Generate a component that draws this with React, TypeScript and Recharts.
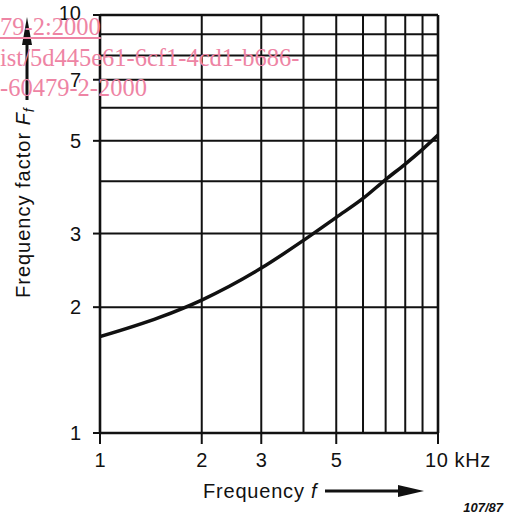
import React from "react";
import {
  LineChart,
  Line,
  XAxis,
  YAxis,
  CartesianGrid,
  ReferenceLine,
} from "recharts";

// Frequency f (kHz) and frequency factor F_f
const freqs = [1, 1.5, 2, 3, 4, 5, 6, 7, 8, 9, 10];
const factor = [1.7, 1.89, 2.08, 2.48, 2.89, 3.28, 3.64, 4.04, 4.4, 4.77, 5.16];

// grid lines and labelled ticks
const gridTicks = [1, 2, 3, 4, 5, 6, 7, 8, 9, 10];
const xLabels = [1, 2, 3, 5, 10];
const yLabels = [1, 2, 3, 5, 7, 10];

const watermark = ["79-2:2000", "ist/5d445e61-6cf1-4cd1-b686-", "-60479-2-2000"];
const figNumber = "107/87";

const data = freqs.map((f, i) => ({ f, ff: factor[i] }));

const FONT = '"Liberation Sans", Arial, sans-serif';
const INK = "#111";

const XTick = (props: any) => {
  const { x, payload } = props;
  const v = payload.value;
  if (!xLabels.includes(v)) return null;
  const top = 433;
  return (
    <g>
      <line x1={x} x2={x} y1={top} y2={top + 11} stroke={INK} strokeWidth={2} />
      {v === 10 ? (
        <text x={x - 13} y={467} fontSize={20} fontFamily={FONT} fill={INK} textAnchor="start" letterSpacing={0.6}>
          {"10 kHz"}
        </text>
      ) : (
        <text x={x} y={467} fontSize={20} fontFamily={FONT} fill={INK} textAnchor="middle">
          {v}
        </text>
      )}
    </g>
  );
};

const YTick = (props: any) => {
  const { y, payload } = props;
  const v = payload.value;
  if (!yLabels.includes(v)) return null;
  return (
    <g>
      <line x1={93} x2={100} y1={y} y2={y} stroke={INK} strokeWidth={2} />
      <text
        x={81}
        y={v === 10 ? y - 2 : y}
        fontSize={20}
        fontFamily={FONT}
        fill={INK}
        textAnchor="end"
        dominantBaseline="central"
      >
        {v}
      </text>
    </g>
  );
};

const YLabel = () => (
  <g>
    <text
      transform="translate(30,298) rotate(-90)"
      fontSize={20}
      fontFamily={FONT}
      fill={INK}
      textAnchor="start"
      letterSpacing={1}
    >
      Frequency factor{" "}
      <tspan fontStyle="italic">F</tspan>
      <tspan fontStyle="italic" fontSize={14} dy={4}>
        f
      </tspan>
    </text>
    <line x1={27} x2={27} y1={100} y2={38} stroke={INK} strokeWidth={3} />
    <polygon points="27,17 22,45 32,45" fill={INK} />
  </g>
);

const XLabel = () => (
  <g>
    <text x={203} y={498} fontSize={20} fontFamily={FONT} fill={INK} textAnchor="start" letterSpacing={0.8}>
      Frequency <tspan fontStyle="italic">f</tspan>
    </text>
    <line x1={325} x2={404} y1={491} y2={491} stroke={INK} strokeWidth={3} />
    <polygon points="424,491 398,485 398,497" fill={INK} />
    <text
      x={503}
      y={512}
      fontSize={13}
      fontFamily={FONT}
      fontStyle="italic"
      fontWeight="bold"
      fill={INK}
      textAnchor="end"
    >
      {figNumber}
    </text>
  </g>
);

export default function App() {
  return (
    <div style={{ position: "absolute", left: 0, top: 0, width: 510, height: 519, background: "#fff" }}>
      <LineChart
        width={510}
        height={519}
        data={data}
        margin={{ top: 15, right: 72, bottom: 26, left: 0 }}
      >
        <CartesianGrid stroke={INK} strokeWidth={2} strokeDasharray="" />
        <XAxis
          dataKey="f"
          type="number"
          scale="log"
          domain={[1, 10]}
          ticks={gridTicks}
          interval={0}
          allowDataOverflow
          height={60}
          tickLine={false}
          axisLine={{ stroke: INK, strokeWidth: 2.6 }}
          tick={<XTick />}
          label={<XLabel />}
        />
        <YAxis
          type="number"
          scale="log"
          domain={[1, 10]}
          ticks={gridTicks}
          interval={0}
          allowDataOverflow
          width={100}
          tickLine={false}
          axisLine={{ stroke: INK, strokeWidth: 2.6 }}
          tick={<YTick />}
          label={<YLabel />}
        />
        <ReferenceLine y={10} stroke={INK} strokeWidth={2.6} />
        <ReferenceLine x={10} stroke={INK} strokeWidth={2.6} />
        <Line
          dataKey="ff"
          type="monotone"
          stroke={INK}
          strokeWidth={3.5}
          dot={false}
          isAnimationActive={false}
        />
      </LineChart>
      {watermark.map((t, i) => (
        <div
          key={i}
          style={{
            position: "absolute",
            left: 0,
            top: 12 + i * 30.5,
            fontFamily: '"Liberation Serif", "Times New Roman", serif',
            fontSize: 24.5,
            lineHeight: "30px",
            color: "#ee84a4",
            whiteSpace: "nowrap",
            textDecoration: i === 0 ? "underline" : "none",
            pointerEvents: "none",
          }}
        >
          {t}
        </div>
      ))}
    </div>
  );
}
